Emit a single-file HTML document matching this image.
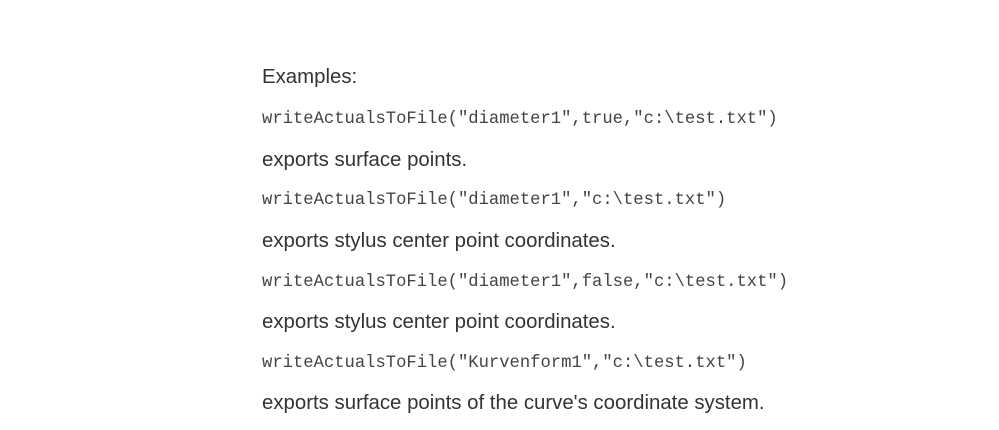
<!DOCTYPE html>
<html><head><style>
body{margin:0;width:999px;height:430px;background:#fff;overflow:hidden;position:relative;color:#333}
div{position:absolute;left:262px;white-space:pre;line-height:22px}
.s{font-family:"Liberation Sans",sans-serif;font-size:20.4px}
.m{font-family:"Liberation Mono",monospace;font-size:17.2px;color:#444}
</style></head><body>
<div class="s" style="top:66px">Examples:</div>
<div class="m" style="top:109px">writeActualsToFile("diameter1",true,"c:\test.txt")</div>
<div class="s" style="top:149px">exports surface points.</div>
<div class="m" style="top:190px">writeActualsToFile("diameter1","c:\test.txt")</div>
<div class="s" style="top:230px">exports stylus center point coordinates.</div>
<div class="m" style="top:272px">writeActualsToFile("diameter1",false,"c:\test.txt")</div>
<div class="s" style="top:311px">exports stylus center point coordinates.</div>
<div class="m" style="top:353px">writeActualsToFile("Kurvenform1","c:\test.txt")</div>
<div class="s" style="top:392px">exports surface points of the curve's coordinate system.</div>
</body></html>
